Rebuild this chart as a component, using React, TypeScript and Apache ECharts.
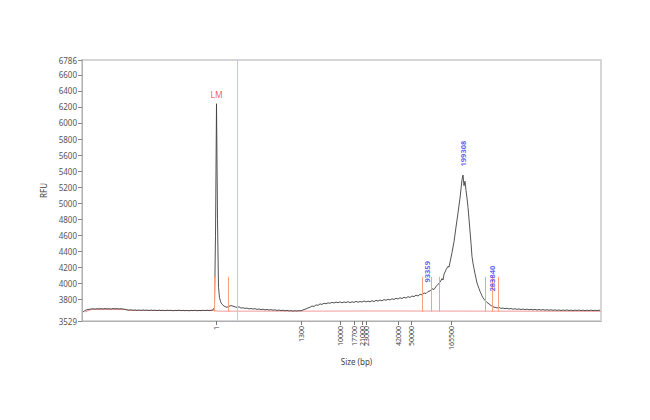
import React, { useEffect, useRef } from "react";
import * as echarts from "echarts";

// x = migration position (scan units), y = RFU
const trace: [number, number][] = [
  [1, 3642], [3, 3660], [5, 3670], [7, 3674], [9, 3679], [11, 3682], [13, 3677], [15, 3683], [17, 3680],
  [19, 3684], [21, 3679], [23, 3685], [25, 3680], [27, 3683], [29, 3678], [31, 3685], [33, 3681], [35, 3684],
  [37, 3679], [39, 3683], [41, 3678], [43, 3675], [45, 3668], [47, 3665], [49, 3669], [51, 3663], [53, 3667],
  [55, 3662], [57, 3666], [59, 3661], [61, 3667], [63, 3662], [65, 3665], [67, 3660], [69, 3666], [71, 3661],
  [73, 3664], [75, 3659], [77, 3665], [79, 3660], [81, 3663], [83, 3658], [85, 3664], [87, 3660], [89, 3663],
  [91, 3657], [93, 3662], [95, 3659], [97, 3664], [99, 3658], [101, 3662], [103, 3657], [105, 3661], [107, 3656],
  [109, 3662], [111, 3658], [113, 3663], [115, 3657], [117, 3661], [119, 3658], [121, 3663], [123, 3659],
  [125, 3664], [127, 3660], [129, 3663], [131, 3668], [132.5, 3700], [133.5, 4600], [134.5, 6240], [135.5, 4800],
  [136.5, 3950], [137.5, 3820], [139, 3755], [141, 3725], [143, 3708], [145, 3700], [147, 3712], [149, 3722],
  [151, 3714], [153, 3706], [155, 3698], [157, 3706], [159, 3690], [161, 3694], [163, 3686], [165, 3690],
  [167, 3680], [169, 3685], [171, 3678], [173, 3683], [175, 3674], [177, 3679], [179, 3671], [181, 3676],
  [183, 3668], [185, 3673], [187, 3666], [189, 3671], [191, 3664], [193, 3668], [195, 3661], [197, 3666],
  [199, 3659], [201, 3664], [203, 3657], [205, 3662], [207, 3654], [209, 3659], [211, 3652], [213, 3658],
  [215, 3653], [217, 3659], [219, 3656], [220, 3662], [222, 3672], [224, 3680], [226, 3692], [228, 3700],
  [230, 3716], [232, 3710], [234, 3730], [236, 3724], [238, 3742], [240, 3736], [242, 3750], [244, 3744],
  [246, 3756], [248, 3750], [250, 3762], [252, 3754], [254, 3765], [256, 3757], [258, 3768], [260, 3756],
  [262, 3767], [264, 3759], [266, 3770], [268, 3758], [270, 3769], [272, 3761], [274, 3775], [276, 3762],
  [278, 3773], [280, 3765], [282, 3779], [284, 3767], [286, 3777], [288, 3769], [290, 3783], [292, 3771],
  [294, 3787], [296, 3777], [298, 3791], [300, 3781], [302, 3797], [304, 3787], [306, 3801], [308, 3791],
  [310, 3807], [312, 3797], [314, 3813], [316, 3803], [318, 3819], [320, 3809], [322, 3825], [324, 3815],
  [326, 3833], [328, 3823], [330, 3841], [332, 3833], [334, 3851], [336, 3841], [338, 3863], [340, 3855],
  [342, 3879], [344, 3871], [346, 3897], [348, 3904], [350, 3931], [352, 3922], [354, 3958], [356, 3988],
  [358, 4012], [360, 4058], [361, 4040], [362, 4112], [364, 4168], [366, 4212], [367, 4200], [368, 4262],
  [370, 4382], [372, 4518], [374, 4702], [376, 4878], [378, 5062], [379, 5178], [380, 5292], [381, 5350],
  [382, 5218], [383, 5272], [384, 5158], [385, 5062], [386, 4948], [387, 4800], [388, 4652], [389, 4500],
  [390, 4332], [391, 4250], [392, 4182], [393, 4120], [394, 4062], [395, 4004], [396, 3968], [397, 3932],
  [398, 3898], [399, 3872], [400, 3842], [401, 3818], [403, 3786], [405, 3760], [407, 3742], [409, 3722],
  [411, 3706], [413, 3700], [415, 3692], [417, 3698], [419, 3686], [421, 3691], [423, 3683], [425, 3688],
  [427, 3679], [429, 3685], [431, 3676], [433, 3682], [435, 3674], [437, 3680], [439, 3672], [441, 3678],
  [443, 3670], [445, 3677], [447, 3669], [449, 3675], [451, 3668], [453, 3674], [455, 3666], [457, 3673],
  [459, 3665], [461, 3671], [463, 3664], [465, 3670], [467, 3663], [469, 3669], [471, 3662], [473, 3668],
  [475, 3661], [477, 3667], [479, 3660], [481, 3666], [483, 3661], [485, 3667], [487, 3660], [489, 3665],
  [491, 3659], [493, 3665], [495, 3660], [497, 3666], [499, 3659], [501, 3664], [503, 3658], [505, 3664],
  [507, 3659], [509, 3665], [511, 3658], [513, 3663], [515, 3659], [517, 3664], [518, 3661],
];

const baseline: [number, number][] = [
  [3, 3641], [9, 3672], [44, 3672], [47, 3660], [132, 3660], [136, 3652], [219, 3652], [300, 3654], [519, 3650],
];

const markerX: number[] = [132, 146, 340, 349, 357, 403, 410, 416];
const markerBottom = 3645;
const markerTop = 4080;
const lowerMarkerX = 155;

const sizeLabels: string[] = ["1", "1300", "10000", "17700", "21000", "23000", "42000", "50000", "165500"];
const sizePositions: number[] = [134, 219, 258, 272, 280, 284, 316, 329, 369];

const yTicks: number[] = [3529, 3800, 4000, 4200, 4400, 4600, 4800, 5000, 5200, 5400, 5600, 5800, 6000, 6200, 6400, 6600, 6786];

const peakNames: string[] = ["93359", "199308", "283840"];
const peakX: number[] = [345, 381, 410];
const peakLabelY: number[] = [4003, 5451, 3891];

const lmLabel = { name: "LM", x: 134.5, y: 6240 };

export default function App() {
  const ref = useRef<HTMLDivElement>(null);
  useEffect(() => {
    if (!ref.current) return;
    const chart = echarts.init(ref.current, undefined, { renderer: "svg" });
    const font = "Noto Sans";
    chart.setOption({
      animation: false,
      backgroundColor: "#ffffff",
      grid: {
        left: 82,
        right: 49,
        top: 60,
        bottom: 99,
        show: true,
        borderColor: "#d6d6d6",
        borderWidth: 2,
      },
      xAxis: {
        type: "value",
        min: 0,
        max: 519,
        name: "Size (bp)",
        nameLocation: "middle",
        nameGap: 30,
        nameTextStyle: { fontFamily: font, fontSize: 8, color: "#444", padding: [0, 0, 0, 30] },
        splitLine: { show: false },
        axisLine: { show: true, onZero: false, lineStyle: { color: "#b0b0b0" } },
        axisTick: { show: true, length: 4, customValues: sizePositions, lineStyle: { color: "#777" } },
        axisLabel: {
          show: true,
          customValues: sizePositions,
          rotate: 90,
          fontFamily: font,
          fontSize: 7,
          color: "#444",
          margin: 5,
          formatter: (v: number) => {
            const i = sizePositions.indexOf(v);
            return i >= 0 ? sizeLabels[i] : "";
          },
        },
      },
      yAxis: {
        type: "value",
        min: 3529,
        max: 6786,
        name: "RFU",
        nameLocation: "middle",
        nameGap: 27,
        nameTextStyle: { fontFamily: font, fontSize: 8, color: "#444" },
        splitLine: { show: false },
        axisLine: { show: true, lineStyle: { color: "#b0b0b0" } },
        axisTick: { show: true, length: 4, customValues: yTicks, lineStyle: { color: "#888" } },
        axisLabel: {
          show: true,
          customValues: yTicks,
          fontFamily: font,
          fontSize: 8,
          color: "#555",
          margin: 5,
          formatter: (v: number) => String(v),
        },
      },
      series: [
        {
          type: "line",
          data: baseline,
          showSymbol: false,
          silent: true,
          lineStyle: { color: "#f29a9a", width: 1 },
          z: 2,
          markLine: {
            symbol: "none",
            silent: true,
            label: { show: false },
            emphasis: { disabled: true },
            lineStyle: { color: "#f6a47c", width: 1, type: "solid", opacity: 1 },
            data: [
              ...markerX.map((x) => [
                { coord: [x, markerBottom] },
                { coord: [x, markerTop] },
              ]),
            ],
          },
        },
        {
          type: "line",
          data: [],
          silent: true,
          markLine: {
            symbol: "none",
            silent: true,
            label: { show: false },
            emphasis: { disabled: true },
            lineStyle: { color: "#c4c4f4", width: 1, type: "solid", opacity: 1 },
            data: [{ xAxis: lowerMarkerX }],
          },
        },
        {
          type: "line",
          data: trace,
          showSymbol: false,
          silent: true,
          lineStyle: { color: "#404040", width: 0.9 },
          z: 3,
        },
        {
          type: "scatter",
          symbolSize: 1,
          itemStyle: { color: "rgba(0,0,0,0)" },
          silent: true,
          z: 5,
          data: peakNames.map((n, i) => ({ name: n, value: [peakX[i], peakLabelY[i]] })),
          label: {
            show: true,
            formatter: "{b}",
            rotate: 90,
            position: [0, 0],
            align: "left",
            verticalAlign: "middle",
            color: "#3b3bf0",
            fontFamily: font,
            fontSize: 7.5,
            fontWeight: "bold",
          },
        },
        {
          type: "scatter",
          symbolSize: 1,
          itemStyle: { color: "rgba(0,0,0,0)" },
          silent: true,
          z: 5,
          data: [{ name: lmLabel.name, value: [lmLabel.x, lmLabel.y] }],
          label: {
            show: true,
            formatter: "{b}",
            position: "top",
            distance: 4,
            color: "#e83a3a",
            fontFamily: font,
            fontSize: 8.5,
          },
        },
      ],
    });
    return () => chart.dispose();
  }, []);
  return (
    <div
      ref={ref}
      style={{ position: "fixed", left: 0, top: 0, width: 650, height: 420, background: "#fff" }}
    />
  );
}
